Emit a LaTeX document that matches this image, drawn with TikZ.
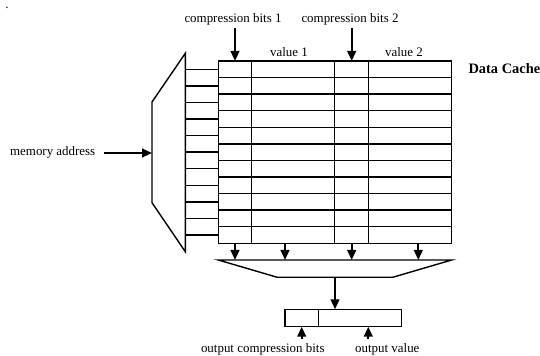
\documentclass[tikz,border=0pt]{standalone}
\usepackage{fontspec}
\setmainfont{Liberation Serif}
\usetikzlibrary{arrows.meta}
\begin{document}
\begin{tikzpicture}[x=0.75pt,y=-0.75pt,
  thin line/.style={line width=1.05pt},
  arr/.style={line width=1.5pt,-{Triangle[width=6.5pt,length=7.5pt]}},
  lbl/.style={font=\fontsize{9.7}{11}\selectfont, inner sep=0pt, anchor=base},
  title/.style={font=\fontsize{10.8}{12}\selectfont\bfseries, inner sep=0pt, anchor=base west}]
\useasboundingbox (0,0) rectangle (540,356);
\node[lbl] (dot) at (7,8.5) {.};
% address decoder
\draw[thin line] (152,102) -- (185.3,53.3) -- (185.3,251.7) -- (152,202.7) -- cycle;
\foreach \i in {0,...,10}
  \draw[thin line] (185.3,{69.3+16.575*\i}) -- (218.3,{69.3+16.575*\i});
% cache grid
\draw[thin line] (218.3,61) rectangle (451.7,243.3);
\foreach \i in {1,...,10}
  \draw[thin line] (218.3,{61+16.575*\i}) -- (451.7,{61+16.575*\i});
\foreach \x in {251.3,334.3,368.3}
  \draw[thin line] (\x,61) -- (\x,243.3);
% output mux
\draw[thin line] (218.3,260) -- (451.7,260) -- (392.7,277.3) -- (277.3,277.3) -- cycle;
% output register
\draw[thin line] (285,309.3) rectangle (401.7,326.7);
\draw[thin line] (318.3,309.3) -- (318.3,326.7);
% coordinates
\coordinate (cb1t) at (235,61);
\coordinate (cb2t) at (351.7,61);
\coordinate (decin) at (152,153);
\foreach \x [count=\k] in {235,285,351.7,418.3} {
  \coordinate (gb\k) at (\x,243.3);
  \coordinate (mt\k) at (\x,260);
}
\coordinate (mb) at (335,277.3);
\coordinate (rt) at (335,309.3);
\coordinate (rb1) at (301.7,326.7);
\coordinate (rb2) at (368.3,326.7);
\coordinate (ob1) at (301.7,339);
\coordinate (ob2) at (368.3,339);
% labels
\node[lbl] (cb1) at (233,22.7) {compression bits 1};
\node[lbl] (cb2) at (350,22.7) {compression bits 2};
\node[lbl] (v1) at (289,56.5) {value 1};
\node[lbl] (v2) at (404,56.5) {value 2};
\node[title] (dc) at (468.3,74) {Data Cache};
\node[lbl] (ma) at (52.7,156) {memory address};
\node[lbl] (ocb) at (262.8,353) {output compression bits};
\node[lbl] (ov) at (387.3,353) {output value};
% arrows
\draw[arr] (235,28) -- (cb1t);
\draw[arr] (351.7,28) -- (cb2t);
\draw[arr] (ma.east |- decin) ++(8,0) -- (decin);
\foreach \k in {1,...,4} \draw[arr] (gb\k) -- (mt\k);
\draw[arr] (mb) -- (rt);
\draw[arr] (ob1) -- (rb1);
\draw[arr] (ob2) -- (rb2);
\end{tikzpicture}
\end{document}
